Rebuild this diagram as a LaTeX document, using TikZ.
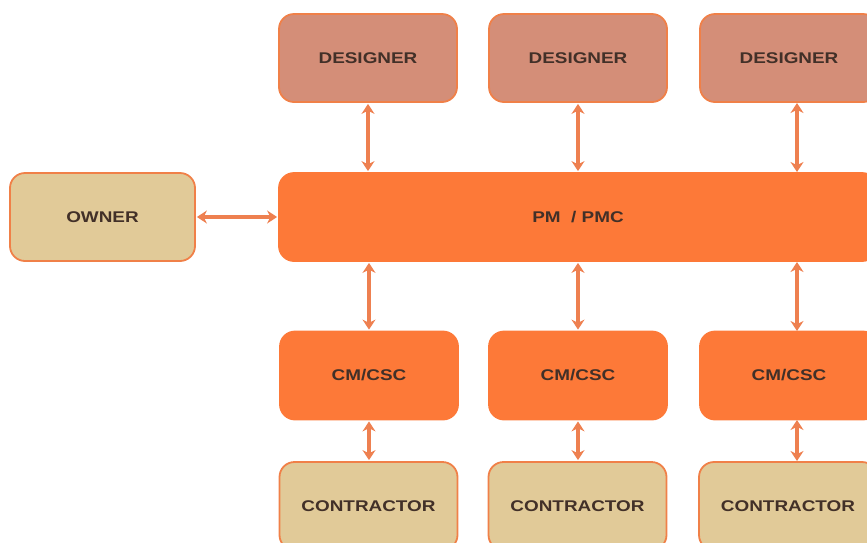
\documentclass[tikz,border=0pt]{standalone}
\usepackage{fontspec}
\usetikzlibrary{arrows.meta}
\newfontfamily\boxfont[FakeStretch=1.22]{Liberation Sans Bold}
\definecolor{edge}{RGB}{240,128,72}
\definecolor{designerfill}{RGB}{212,142,120}
\definecolor{pmfill}{RGB}{253,121,56}
\definecolor{tanfill}{RGB}{225,202,152}
\definecolor{labeltext}{RGB}{66,48,40}
\definecolor{linkcol}{RGB}{238,128,80}
\tikzset{
  box/.style={draw=edge, line width=1.8pt, rounded corners=15pt, minimum height=88pt,
    font=\boxfont\fontsize{15.5}{17}\selectfont, text=labeltext, inner sep=0pt},
  designer/.style={box, fill=designerfill, minimum width=178pt},
  pmbox/.style={box, fill=pmfill, draw=pmfill},
  csc/.style={box, fill=pmfill, draw=pmfill, minimum width=178pt},
  tan/.style={box, fill=tanfill, minimum width=178pt},
  link/.style={draw=linkcol, line width=3.2pt, {Stealth[length=10pt,width=13pt]}-{Stealth[length=10pt,width=13pt]}, shorten <=1pt, shorten >=1pt}
}
\begin{document}
\begin{tikzpicture}[x=1pt,y=-1pt]
\useasboundingbox (0,0) rectangle (867,542);
\clip (0,0) rectangle (867,542);
% top row
\node[designer] (d1) at (368,58) {DESIGNER};
\node[designer] (d2) at (578,58) {DESIGNER};
\node[designer] (d3) at (789,58) {DESIGNER};
% middle band
\node[pmbox, minimum width=598pt] (pm) at (578,217) {PM\ \ / PMC};
\node[tan, minimum width=185pt] (own) at (102.5,217) {OWNER};
% site row
\node[csc] (c1) at (369,375.5) {CM/CSC};
\node[csc] (c2) at (578,375.5) {CM/CSC};
\node[csc] (c3) at (789,375.5) {CM/CSC};
% contractors
\node[tan] (k1) at (368.5,506) {CONTRACTOR};
\node[tan] (k2) at (577.5,506) {CONTRACTOR};
\node[tan] (k3) at (788,506) {CONTRACTOR};
% connectors
\draw[link] (d1.south) -- (d1.south |- pm.north);
\draw[link] (d2.south) -- (d2.south |- pm.north);
\draw[link] (797,102) -- (797,173);
\draw[link] (own.east) -- (pm.west);
\draw[link] (c1.north) -- (c1.north |- pm.south);
\draw[link] (c2.north) -- (c2.north |- pm.south);
\draw[link] (797,261) -- (797,332);
\draw[link] (c1.south) -- (c1.south |- k1.north);
\draw[link] (c2.south) -- (c2.south |- k2.north);
\draw[link] (797,419) -- (797,462);
\end{tikzpicture}
\end{document}
